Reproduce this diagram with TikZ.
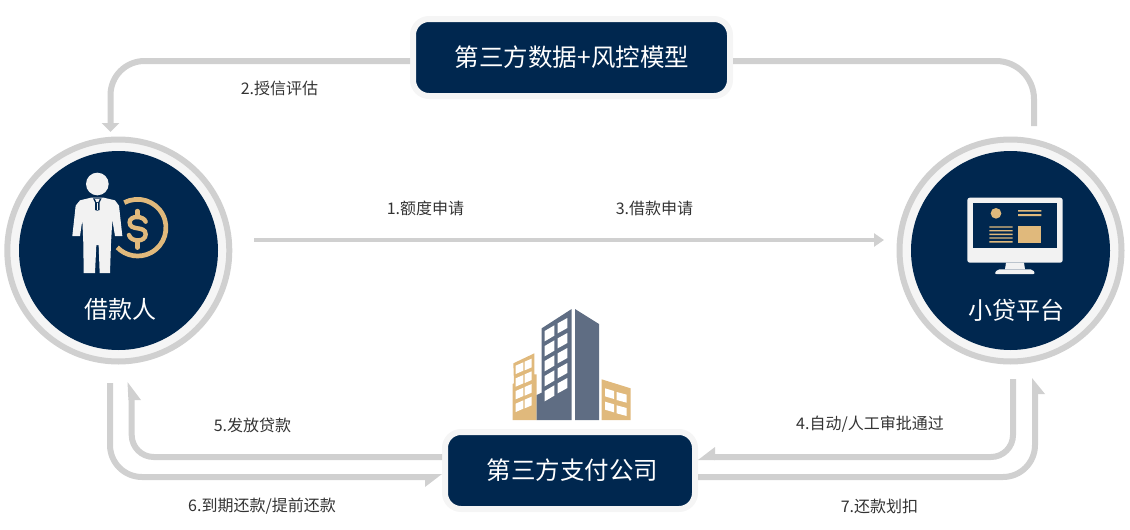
\documentclass[tikz,border=0pt]{standalone}
\usepackage{fontspec}
\setmainfont{Noto Sans CJK SC}
\usetikzlibrary{arrows.meta}
\definecolor{navy}{HTML}{00274F}
\definecolor{linegray}{HTML}{D0D0D0}
\definecolor{halo}{HTML}{F5F5F5}
\definecolor{gold}{HTML}{E0B97C}
\definecolor{slate}{HTML}{5F6D83}
\definecolor{iconwhite}{HTML}{F2F2F2}
\definecolor{labeltext}{HTML}{333333}
\tikzset{
  ringnode/.style={circle,draw=linegray,fill=halo,line width=6pt,minimum size=222pt,inner sep=0pt},
  corenode/.style={circle,fill=navy,minimum size=199pt,inner sep=0pt,outer sep=0pt},
  boxnode/.style={draw=halo,fill=navy,line width=6pt,rounded corners=16pt,minimum width=#1,minimum height=77pt,inner sep=0pt,text=white,font=\fontsize{24.5}{28}\selectfont},
  boxnode/.default=317pt,
  corelabel/.style={text=white,inner sep=0pt,font=\fontsize{24}{28}\selectfont},
  steplabel/.style={text=labeltext,inner sep=0pt,font=\fontsize{16}{18}\selectfont},
  conn/.style={draw=linegray,line width=6pt},
  connthin/.style={draw=linegray,line width=4pt},
  headfill/.style={fill=linegray},
  icon/.style={x=0.33333pt,y=-0.33333pt},
}
\begin{document}
\begin{tikzpicture}[x=1pt,y=-1pt]
\useasboundingbox (0,0) rectangle (1130,530);
% nodes
\node[ringnode] (borrowerring) at (118.3,250.5) {};
\node[corenode] (borrower) at (118.5,250.5) {};
\node[ringnode] (platformring) at (1010.5,250.5) {};
\node[corenode] (platform) at (1010.5,250.5) {};
\node[boxnode] (databox) at (571.5,57.5) {\hspace{1pt}第三方数据+风控模型};
\node[boxnode=250pt] (paybox) at (570,470.5) {\hspace{5pt}第三方支付公司};
\node[corelabel] (borrowerlabel) at (120,309.5) {借款人};
\node[corelabel] (platformlabel) at (1016,310.5) {小贷平台};
% free ends
\coordinate (tip2) at (110.5,132);
\coordinate (end2b) at (1034,126);
\coordinate (s1a) at (254,240);
\coordinate (s1b) at (884,240);
\coordinate (s5) at (131.7,399);
\coordinate (s6) at (110,383);
\coordinate (s4) at (1013,379);
\coordinate (s7) at (1035,393);
\coordinate (e6) at (426,477);
\coordinate (e4) at (714,457);
% connectors
\draw[conn,rounded corners=34pt,-{Triangle[length=9pt,width=17pt]}] ([yshift=-3.5pt]databox.west) -| (tip2);
\draw[conn,rounded corners=38pt] ([yshift=-3.5pt]databox.east) -| (end2b);
\draw[connthin,-{Triangle[length=10pt,width=13pt]}] (s1a) -- (s1b);
\draw[conn,rounded corners=22pt] ([yshift=13.5pt]paybox.west) -| (s5);
\fill[headfill] (127.5,382) -- (141,400) -- (128.4,400) -- cycle;
\draw[conn,rounded corners=32pt] (s6) |- (e6);
\fill[headfill] (442,474) -- (425,487) -- (425,474) -- cycle;
\draw[conn,rounded corners=22pt] (s4) |- (e4);
\fill[headfill] (698,460) -- (715,447) -- (715,460) -- cycle;
\draw[conn,rounded corners=32pt] ([yshift=-6.5pt]paybox.east) -| (s7);
\fill[headfill] (1032,378) -- (1045,394) -- (1032,394) -- cycle;
% labels
\node[steplabel] (l1) at (425.5,208.5) {1.额度申请};
\node[steplabel] (l2) at (279.5,88.5) {2.授信评估};
\node[steplabel] (l3) at (654.5,208.5) {3.借款申请};
\node[steplabel] (l4) at (870,424.5) {4.自动/人工审批通过};
\node[steplabel] (l5) at (252.5,425.5) {5.发放贷款};
\node[steplabel] (l6) at (262,506.5) {6.到期还款/提前还款};
\node[steplabel] (l7) at (879.5,506.5) {7.还款划扣};
% person icon
\begin{scope}[shift={(65,165)},icon]
\fill[iconwhite] (97,57) circle (34);
\draw[gold,line width=4.7pt] (178,113) arc[start angle=-118,end angle=136,radius=85];
\fill[iconwhite] (78,98) -- (116,98) -- (150,106) -- (162,122) -- (172,213) -- (150,213) -- (142,165) -- (138,235) -- (135,324) -- (104,324) -- (101,240) -- (94,240) -- (90,324) -- (56,324) -- (55,235) -- (52,165) -- (45,213) -- (22,213) -- (32,122) -- (45,106) -- cycle;
\fill[navy] (84,100) -- (110,100) -- (104,112) -- (104,135) -- (97,137) -- (90,135) -- (90,112) -- cycle;
\fill[iconwhite] (90,102) -- (104,102) -- (100,111) -- (94,111) -- cycle;
\draw[iconwhite,line width=1.2pt] (97,113) -- (97,134);
\draw[gold,line width=4.4pt,line cap=round] (242,170) .. controls (236,152) and (194,150) .. (194,172) .. controls (194,200) and (242,180) .. (242,208) .. controls (242,232) and (198,232) .. (192,210);
\draw[gold,line width=4.4pt,line cap=round] (217,138) -- (217,152) (217,232) -- (217,248);
\end{scope}
% monitor icon
\begin{scope}[shift={(890,130)},icon]
\fill[iconwhite,rounded corners=2.5pt] (232,203) rectangle (518,398);
\fill[navy] (249,219) rectangle (502,355);
\fill[iconwhite] (348,398) -- (402,398) -- (405,418) -- (345,418) -- cycle;
\fill[iconwhite,rounded corners=2pt] (313,432) -- (322,418) -- (428,418) -- (436,432) -- cycle;
\fill[gold] (318,250) circle (16);
\fill[gold] (384,240) rectangle (454,245) (384,252) rectangle (454,258);
\fill[gold] (298,289) rectangle (368,293) (298,300) rectangle (368,304) (298,311) rectangle (368,315) (298,322) rectangle (368,326) (298,333) rectangle (368,338);
\fill[gold] (384,289) rectangle (454,338);
\end{scope}
% building icon
\begin{scope}[shift={(490,300)},icon]
\fill[gold] (70,190) -- (133,160) -- (133,223) -- (140,223) -- (140,360) -- (68,360) -- (68,252) -- (72,250) -- cycle;
\fill[slate] (155,85) -- (245,27) -- (245,360) -- (140,360) -- (140,285) -- (155,278) -- cycle;
\fill[slate] (255,27) -- (327,72) -- (327,360) -- (255,360) -- cycle;
\fill[gold] (335,238) -- (422,265) -- (422,360) -- (335,360) -- cycle;
\foreach \r in {0,1,2,3,4}{
  \fill[white] (164,93+45*\r) -- (193,76+45*\r) -- (193,107+45*\r) -- (164,124+45*\r) -- cycle;
  \fill[white] (203,70+45*\r) -- (232,54+45*\r) -- (232,84+45*\r) -- (203,100+45*\r) -- cycle;
}
\foreach \r in {0,1,2,3}{
  \fill[white] (77,197+38*\r) -- (100,187+38*\r) -- (100,212+38*\r) -- (77,222+38*\r) -- cycle;
  \fill[white] (104,185+38*\r) -- (125,176+38*\r) -- (125,202+38*\r) -- (104,211+38*\r) -- cycle;
}
\foreach \r in {0,1}{
  \fill[white] (345,265+40*\r) -- (372,273+40*\r) -- (372,297+40*\r) -- (345,289+40*\r) -- cycle;
  \fill[white] (380,276+40*\r) -- (410,284+40*\r) -- (410,308+40*\r) -- (380,300+40*\r) -- cycle;
}
\end{scope}
\end{tikzpicture}
\end{document}
